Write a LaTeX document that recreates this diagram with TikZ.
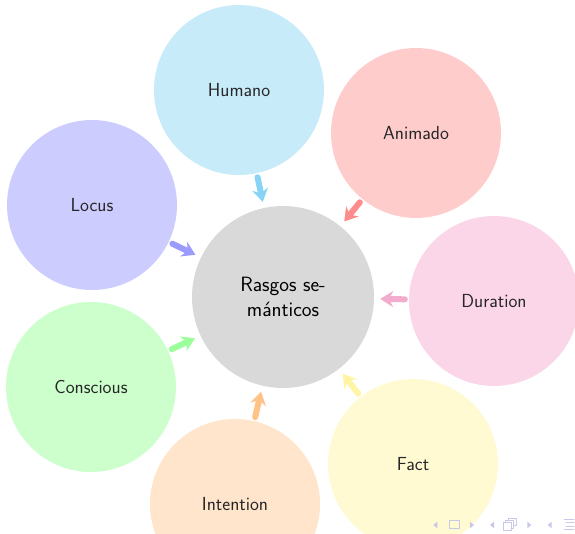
\documentclass[tikz,border=0pt]{standalone}
\usepackage{fontspec}
\usetikzlibrary{arrows.meta}

\definecolor{humfill}{RGB}{200,235,250}
\definecolor{humarr}{RGB}{135,212,245}
\definecolor{anifill}{RGB}{255,204,204}
\definecolor{aniarr}{RGB}{255,140,140}
\definecolor{durfill}{RGB}{250,214,232}
\definecolor{durarr}{RGB}{243,172,206}
\definecolor{facfill}{RGB}{255,250,210}
\definecolor{facarr}{RGB}{255,245,165}
\definecolor{intfill}{RGB}{255,229,204}
\definecolor{intarr}{RGB}{255,195,135}
\definecolor{confill}{RGB}{204,255,204}
\definecolor{conarr}{RGB}{155,255,155}
\definecolor{locfill}{RGB}{204,204,255}
\definecolor{locarr}{RGB}{155,155,255}
\definecolor{ctrfill}{RGB}{217,217,217}
\definecolor{navc}{RGB}{200,200,235}

\begin{document}
\begin{tikzpicture}[x=1pt,y=-1pt,line cap=round,line join=round,
    >={Stealth[length=13pt,width=16pt]},
    bubble/.style={circle,minimum size=170pt,inner sep=0pt,
      font=\fontsize{18.9}{22}\sffamily,text=black!85},
    link/.style={->,line width=6pt,shorten >=6pt,shorten <=4pt}]
      \clip (0,0) rectangle (575,534);

      % Center
      \node[circle,minimum size=182pt,inner sep=0pt,fill=ctrfill,align=center,
        font=\fontsize{20.7}{25}\sffamily] (ctr) at (283,297) {Rasgos se-\\mánticos};

      % Add Bubbles
      \node[bubble,fill=humfill] (hum) at (239,90) {Humano};
      \node[bubble,fill=anifill] (ani) at (416,133) {Animado};
      \node[bubble,fill=durfill] (dur) at (494,301) {Duration};
      \node[bubble,fill=facfill] (fac) at (413,464) {Fact};
      \node[bubble,fill=intfill] (int) at (235,504) {Intention};
      \node[bubble,fill=confill] (con) at (91,387) {Conscious};
      \node[bubble,fill=locfill] (loc) at (92,205) {Locus};

      % Add Arrows
      \draw[link,humarr] (hum) -- (ctr);
      \draw[link,aniarr] (ani) -- (ctr);
      \draw[link,durarr] (dur) -- (ctr);
      \draw[link,facarr] (fac) -- (ctr);
      \draw[link,intarr] (int) -- (ctr);
      \draw[link,conarr] (con) -- (ctr);
      \draw[link,locarr] (loc) -- (ctr);

      % Navigation symbols
      \begin{scope}[fill=navc,draw=navc,line width=1pt]
      \fill (437.3,521.7) -- (433.3,525) -- (437.3,528.3) -- cycle;
      \draw (449.3,520.7) rectangle (459.3,528.3);
      \fill (470,521.7) -- (474,525) -- (470,528.3) -- cycle;
      \fill (494,521.7) -- (490,525) -- (494,528.3) -- cycle;
      \draw (503,522.5) rectangle (511,530.5);
      \draw (505.5,522.5) -- (505.5,520.3) -- (513.8,520.3) -- (513.8,528) -- (511,528);
      \draw (508.3,520.3) -- (508.3,518.3) -- (516.5,518.3) -- (516.5,525.5) -- (513.8,525.5);
      \fill (527.3,521.7) -- (531.3,525) -- (527.3,528.3) -- cycle;
      \fill (551.7,521.7) -- (547.7,525) -- (551.7,528.3) -- cycle;
      \draw (564,519) -- (574,519);
      \draw (566,522.5) -- (574,522.5);
      \draw (566,526) -- (574,526);
      \draw (564,529.7) -- (574,529.7);
      \end{scope}
    \end{tikzpicture}
\end{document}
